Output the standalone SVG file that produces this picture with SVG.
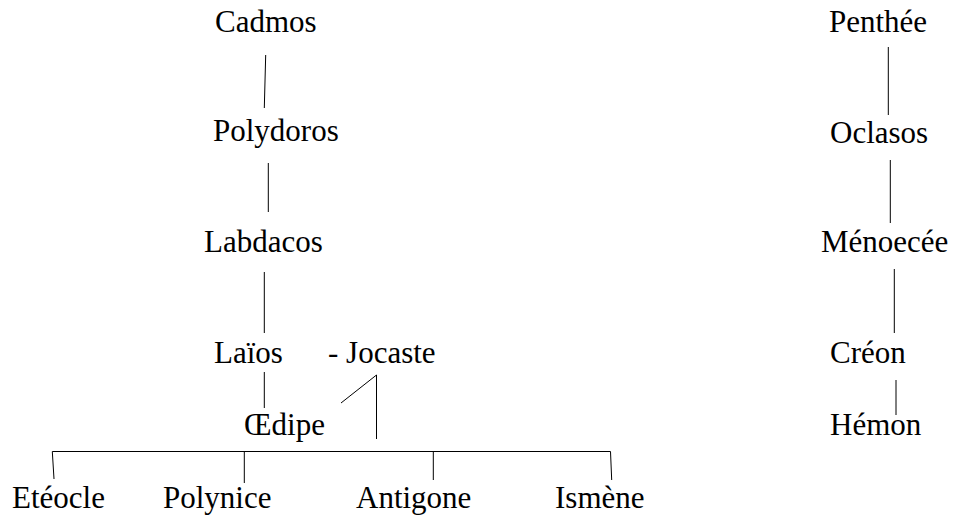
<svg xmlns="http://www.w3.org/2000/svg" width="955" height="519" viewBox="0 0 955 519">
<style>
text{font-family:'Liberation Serif','Times New Roman',serif;font-size:31px;fill:#000}
.c line{stroke:#000;stroke-width:1;fill:none}
</style>
<rect width="955" height="519" fill="#fff"/>
<g class="c" id="connectors">
<line x1="265.7" y1="55" x2="264.3" y2="108"/>
<line x1="268.3" y1="163" x2="268.3" y2="212"/>
<line x1="264.3" y1="272" x2="264.3" y2="333"/>
<line x1="264.3" y1="372" x2="264.3" y2="408"/>
<line x1="376.5" y1="375" x2="341" y2="403"/>
<line x1="376.5" y1="375" x2="376.5" y2="439"/>
<line x1="52.3" y1="451.5" x2="610.5" y2="451.5"/>
<line x1="52.3" y1="451.5" x2="54" y2="479"/>
<line x1="244.3" y1="451.5" x2="244.3" y2="483"/>
<line x1="433.3" y1="451.5" x2="433.3" y2="480"/>
<line x1="610.5" y1="451.5" x2="611.7" y2="480"/>
<line x1="888.3" y1="47" x2="888.3" y2="115"/>
<line x1="890.3" y1="160" x2="890.3" y2="223"/>
<line x1="894.3" y1="269" x2="894.3" y2="333"/>
<line x1="896" y1="380" x2="896" y2="415"/>
</g>
<g id="cadmos"><text x="215" y="32">Cadmos</text></g>
<g id="polydoros"><text x="213" y="141">Polydoros</text></g>
<g id="labdacos"><text x="204" y="252">Labdacos</text></g>
<g id="laios"><text x="214" y="363">Laïos</text></g>
<g id="jocaste"><text x="328" y="363">- Jocaste</text></g>
<g id="oedipe"><text x="244" y="435">Œdipe</text></g>
<g id="eteocle"><text x="12" y="508">Etéocle</text></g>
<g id="polynice"><text x="163" y="508">Polynice</text></g>
<g id="antigone"><text x="356" y="508">Antigone</text></g>
<g id="ismene"><text x="555" y="508">Ismène</text></g>
<g id="penthee"><text x="829" y="32">Penthée</text></g>
<g id="oclasos"><text x="830" y="143">Oclasos</text></g>
<g id="menoecee"><text x="821" y="252">Ménoecée</text></g>
<g id="creon"><text x="830" y="363">Créon</text></g>
<g id="hemon"><text x="830" y="435">Hémon</text></g>
</svg>
